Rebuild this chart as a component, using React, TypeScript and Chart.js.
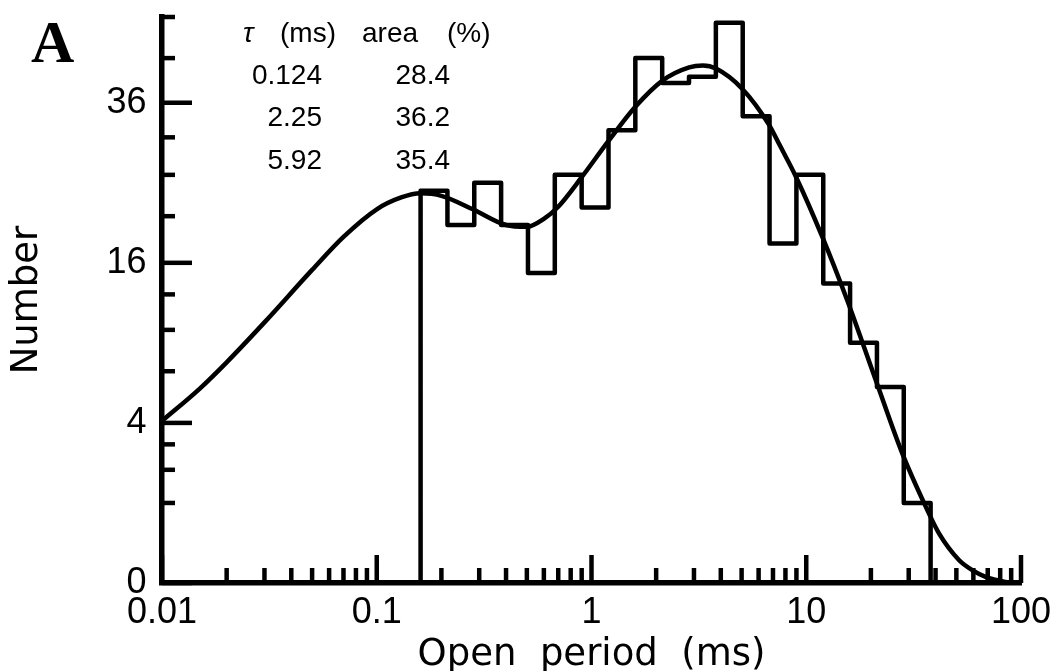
import React, { useEffect, useRef } from 'react';
import { Chart, registerables, LinearScale } from 'chart.js';

// ---- data ----
const BIN_EDGES = [0.16, 0.2134, 0.2845, 0.3794, 0.506, 0.6747, 0.8998, 1.2, 1.6, 2.134, 2.845, 3.794, 5.06, 6.747, 8.998, 12.0, 16.0, 21.34, 28.45, 37.94];
const BIN_COUNTS = [24, 20, 25, 20, 15, 26, 22, 32, 43, 39, 40, 49, 34, 18, 26, 14, 9, 6, 1];

const FIT_X = [0.01, 0.015, 0.02, 0.03, 0.05, 0.07, 0.1, 0.13, 0.16, 0.2, 0.28, 0.4, 0.5, 0.6, 0.7, 0.9, 1.2, 1.6, 2.14, 2.85, 3.3, 3.8, 5.04, 6.7, 7.5, 8.94, 11.88, 15.5, 21.06, 28.0, 36.0, 41.5, 51.4, 59.3, 68.4, 78.9, 94.4, 100];
const FIT_Y = [4.1, 5.9, 7.6, 10.6, 15.3, 18.7, 21.8, 23.2, 23.7, 23.4, 21.8, 20.0, 19.8, 20.7, 22.1, 25.7, 30.5, 35.4, 39.4, 41.5, 41.8, 41.3, 38.1, 32.8, 30.0, 25.8, 18.7, 12.5, 6.43, 2.62, 0.91, 0.385, 0.083, 0.026, 0.006, 0.001, 0, 0];

const X_MAJOR = [0.01, 0.1, 1, 10, 100];
const X_LABELS = ['0.01', '0.1', '1', '10', '100'];
const X_MINOR_STEPS = [2, 3, 4, 5, 6, 7, 8, 9];
const Y_MAJOR = [0, 4, 16, 36];
const Y_MINOR = [1, 2, 3, 7, 10, 13, 21, 26, 31, 43, 50];

const TAU_MS = ['0.124', '2.25', '5.92'];
const AREA_PCT = ['28.4', '36.2', '35.4'];

// ---- square-root scale ----
class SqrtScale extends LinearScale {
  static id = 'sqrt';
  static defaults = {};
  _s0: number = 0;
  _s1: number = 1;
  buildTicks() {
    const vals = [...Y_MAJOR, ...Y_MINOR].sort((a, b) => a - b);
    return vals.map((v) => ({ value: v, major: Y_MAJOR.includes(v) }));
  }
  configure() {
    super.configure();
    this._s0 = Math.sqrt(Math.max(0, this.min));
    this._s1 = Math.sqrt(Math.max(0, this.max));
  }
  getPixelForValue(value: number) {
    if (value === null || value === undefined || isNaN(value)) return NaN;
    return this.getPixelForDecimal((Math.sqrt(Math.max(0, value)) - this._s0) / (this._s1 - this._s0));
  }
  getValueForPixel(pixel: number) {
    const d = this.getDecimalForPixel(pixel);
    const s = this._s0 + d * (this._s1 - this._s0);
    return s * s;
  }
}

Chart.register(...registerables, SqrtScale as any);

const xTickValues = (): number[] => {
  const out: number[] = [];
  X_MAJOR.forEach((d, i) => {
    out.push(d);
    if (i < X_MAJOR.length - 1) X_MINOR_STEPS.forEach((m) => out.push(d * m));
  });
  return out;
};

const decorPlugin = {
  id: 'decor',
  afterDraw(chart: any) {
    const { ctx, chartArea, scales } = chart;
    const xs = scales.x;
    const ys = scales.y;
    const left = chartArea.left;
    const bottom = chartArea.bottom;
    ctx.save();
    ctx.strokeStyle = '#000';
    ctx.lineWidth = 4.5;
    ctx.lineCap = 'butt';
    const seg = (x1: number, y1: number, x2: number, y2: number) => {
      ctx.beginPath();
      ctx.moveTo(x1, y1);
      ctx.lineTo(x2, y2);
      ctx.stroke();
    };
    Y_MAJOR.forEach((v) => { const y = ys.getPixelForValue(v); seg(left, y, left + 30, y); });
    Y_MINOR.forEach((v) => { const y = ys.getPixelForValue(v); seg(left, y, left + 13, y); });
    xTickValues().forEach((v) => {
      const x = xs.getPixelForValue(v);
      const major = X_MAJOR.includes(v);
      seg(x, bottom, x, bottom - (major ? 28 : 15));
    });

    ctx.fillStyle = '#000';
    ctx.textBaseline = 'alphabetic';
    ctx.textAlign = 'left';
    ctx.font = 'bold 60px "Liberation Serif"';
    ctx.fillText('A', 31, 62);

    ctx.font = 'italic 28px "Liberation Sans"';
    ctx.fillText('\u03C4', 243, 42);
    ctx.font = '28px "Liberation Sans"';
    ctx.fillText('(ms)', 280, 42);
    ctx.fillText('area', 362, 42);
    ctx.fillText('(%)', 447, 42);
    const rowsY = [83.5, 125.5, 168.5];
    ctx.textAlign = 'right';
    TAU_MS.forEach((t, i) => ctx.fillText(t, 322, rowsY[i]));
    AREA_PCT.forEach((a, i) => ctx.fillText(a, 450, rowsY[i]));
    ctx.restore();
  },
};

export default function App() {
  const ref = useRef<HTMLCanvasElement>(null);
  useEffect(() => {
    const canvas = ref.current;
    if (!canvas) return;
    const histData = [
      { x: BIN_EDGES[0], y: 0 },
      ...BIN_COUNTS.map((c, i) => ({ x: BIN_EDGES[i], y: c })),
      { x: BIN_EDGES[BIN_EDGES.length - 1], y: 0 },
    ];
    const fitData = FIT_X.map((x, i) => ({ x, y: FIT_Y[i] }));
    const tickFont = { family: '"Liberation Sans"', size: 36 };
    const titleFont = { family: '"DejaVu Sans"', size: 37, lineHeight: 1 };
    const chart = new Chart(canvas, {
      type: 'line',
      data: {
        datasets: [
          {
            label: 'Histogram',
            data: histData,
            stepped: 'before',
            borderColor: '#000',
            borderWidth: 4.5,
            borderJoinStyle: 'round',
            pointRadius: 0,
            fill: false,
          },
          {
            label: 'Fit',
            data: fitData,
            cubicInterpolationMode: 'monotone',
            borderColor: '#000',
            borderWidth: 4.5,
            borderCapStyle: 'round',
            pointRadius: 0,
            fill: false,
          },
        ],
      },
      options: {
        responsive: false,
        animation: false,
        events: [],
        layout: { padding: { left: 0, right: 37, top: 17, bottom: 0 } },
        plugins: { legend: { display: false }, tooltip: { enabled: false } },
        scales: {
          x: {
            type: 'logarithmic',
            position: 'bottom',
            min: 0.01,
            max: 100,
            afterBuildTicks: (scale: any) => {
              scale.ticks = xTickValues().map((v) => ({ value: v, major: X_MAJOR.includes(v) }));
            },
            afterFit: (scale: any) => {
              scale.height = 88;
              scale.paddingLeft = 0;
              scale.paddingRight = 0;
              scale.paddingTop = 0;
              scale.paddingBottom = 0;
            },
            ticks: {
              autoSkip: false,
              maxRotation: 0,
              minRotation: 0,
              padding: 8,
              color: '#000',
              font: tickFont,
              callback: (v: any) => {
                const i = X_MAJOR.indexOf(Number(v));
                return i >= 0 ? X_LABELS[i] : '';
              },
            },
            grid: { display: false, drawTicks: false },
            border: { display: true, width: 5.5, color: '#000' },
            title: {
              display: true,
              text: 'Open  period  (ms)',
              color: '#000',
              font: titleFont,
              padding: { top: 0, bottom: -3 },
            },
          },
          y: {
            type: 'sqrt' as any,
            position: 'left',
            min: 0,
            max: 50,
            afterFit: (scale: any) => {
              scale.width = 162;
              scale.paddingLeft = 0;
              scale.paddingRight = 0;
              scale.paddingTop = 0;
              scale.paddingBottom = 0;
            },
            ticks: {
              autoSkip: false,
              padding: 15.5,
              color: '#000',
              font: tickFont,
              callback: (v: any) => (Y_MAJOR.includes(Number(v)) ? String(v) : ''),
            },
            grid: { display: false, drawTicks: false },
            border: { display: true, width: 5.5, color: '#000' },
            title: {
              display: true,
              text: 'Number',
              color: '#000',
              font: titleFont,
              padding: { top: 9, bottom: 0 },
            },
          },
        },
      } as any,
      plugins: [decorPlugin],
    });
    return () => chart.destroy();
  }, []);
  return (
    <div style={{ position: 'absolute', left: 0, top: 0, width: 1058, height: 671, background: '#fff' }}>
      <canvas ref={ref} width={1058} height={671} style={{ display: 'block' }} />
    </div>
  );
}
